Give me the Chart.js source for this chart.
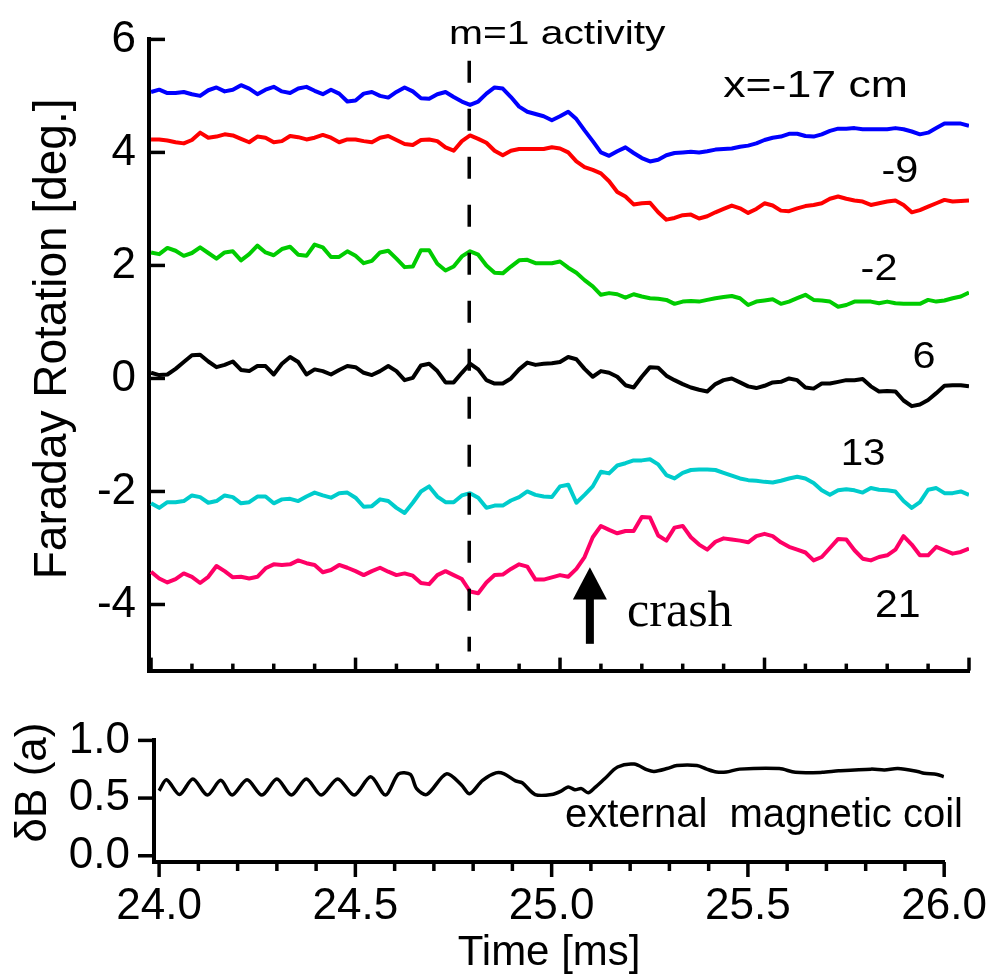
<!DOCTYPE html>
<html>
<head>
<meta charset="utf-8">
<script src="https://cdn.jsdelivr.net/npm/chart.js@4"></script>
<style>
  body { margin: 0; background: #fff; }
  #wrap { position: relative; width: 1005px; height: 979px; }
  canvas { position: absolute; left: 0; }
  #topChart { top: 0; }
  #bottomChart { top: 690px; }
</style>
</head>
<body>
<div id="wrap">
  <canvas id="topChart" width="1005" height="710"></canvas>
  <canvas id="bottomChart" width="1005" height="289"></canvas>
</div>
<script>
  // sampling grid of the Faraday traces, 0.02 ms
  const time = [];
  for (let k = 0; k <= 100; k++) time.push(+(24 + k * 0.02).toFixed(2));

  const seriesNames = ['x=-17 cm', '-9', '-2', '6', '13', '21'];

  const blue = [5.07, 5.11, 5.05, 5.05, 5.07, 5.03, 5.00, 5.10, 5.15, 5.08,
    5.11, 5.19, 5.13, 5.03, 5.11, 5.16, 5.08, 5.05, 5.13, 5.16,
    5.09, 5.03, 5.11, 5.04, 4.90, 4.92, 5.04, 5.07, 5.00, 4.97,
    5.07, 5.15, 5.08, 4.96, 4.95, 5.03, 5.07, 4.98, 4.90, 4.84,
    4.90, 5.04, 5.15, 5.13, 4.98, 4.81, 4.72, 4.68, 4.64, 4.57,
    4.64, 4.72, 4.59, 4.39, 4.20, 4.00, 3.94, 4.02, 4.09, 3.99,
    3.90, 3.84, 3.87, 3.95, 3.99, 4.00, 4.01, 4.00, 4.02, 4.05,
    4.06, 4.07, 4.10, 4.12, 4.16, 4.22, 4.26, 4.28, 4.33, 4.33,
    4.29, 4.28, 4.32, 4.38, 4.42, 4.42, 4.43, 4.41, 4.41, 4.41,
    4.41, 4.43, 4.41, 4.37, 4.32, 4.35, 4.43, 4.51, 4.51, 4.51, 4.47];

  const red = [4.23, 4.23, 4.21, 4.18, 4.16, 4.22, 4.35, 4.26, 4.28, 4.32,
    4.30, 4.24, 4.18, 4.28, 4.26, 4.18, 4.20, 4.29, 4.27, 4.23,
    4.26, 4.31, 4.26, 4.18, 4.23, 4.23, 4.20, 4.18, 4.26, 4.29,
    4.22, 4.15, 4.13, 4.22, 4.23, 4.20, 4.09, 4.03, 4.20, 4.30,
    4.24, 4.17, 4.03, 3.95, 4.03, 4.06, 4.06, 4.06, 4.06, 4.09,
    4.07, 4.00, 3.84, 3.74, 3.69, 3.63, 3.49, 3.30, 3.22, 3.08,
    3.10, 3.11, 2.94, 2.81, 2.84, 2.89, 2.90, 2.83, 2.87, 2.94,
    3.00, 3.06, 3.01, 2.93, 3.00, 3.10, 3.06, 2.97, 2.96, 3.01,
    3.05, 3.07, 3.10, 3.18, 3.22, 3.18, 3.15, 3.13, 3.07, 3.10,
    3.13, 3.15, 3.07, 2.94, 2.98, 3.04, 3.10, 3.16, 3.13, 3.14, 3.15];

  const green = [2.23, 2.20, 2.31, 2.26, 2.17, 2.22, 2.32, 2.22, 2.12, 2.23,
    2.25, 2.09, 2.20, 2.35, 2.23, 2.18, 2.29, 2.33, 2.19, 2.17,
    2.37, 2.32, 2.15, 2.15, 2.25, 2.17, 2.04, 2.08, 2.23, 2.26,
    2.12, 1.97, 1.98, 2.27, 2.27, 2.03, 1.91, 1.98, 2.16, 2.25,
    2.19, 2.00, 1.87, 1.86, 1.98, 2.09, 2.10, 2.04, 2.04, 2.04,
    2.07, 1.96, 1.87, 1.74, 1.63, 1.48, 1.51, 1.49, 1.43, 1.49,
    1.45, 1.42, 1.41, 1.39, 1.32, 1.36, 1.37, 1.36, 1.39, 1.42,
    1.44, 1.46, 1.42, 1.30, 1.36, 1.38, 1.40, 1.32, 1.36, 1.42,
    1.48, 1.39, 1.38, 1.36, 1.27, 1.30, 1.36, 1.36, 1.36, 1.33,
    1.36, 1.33, 1.32, 1.32, 1.32, 1.39, 1.36, 1.38, 1.42, 1.45, 1.52];

  const black = [0.10, 0.06, 0.07, 0.17, 0.29, 0.41, 0.42, 0.30, 0.20, 0.24,
    0.30, 0.15, 0.13, 0.22, 0.22, 0.07, 0.26, 0.38, 0.29, 0.07,
    0.16, 0.13, 0.07, 0.15, 0.22, 0.20, 0.10, 0.06, 0.13, 0.22,
    0.13, -0.03, 0.01, 0.23, 0.26, 0.13, -0.07, -0.07, 0.10, 0.26,
    0.16, -0.03, -0.09, -0.09, 0.00, 0.16, 0.28, 0.24, 0.26, 0.27,
    0.29, 0.38, 0.34, 0.17, 0.03, 0.13, 0.10, 0.03, -0.12, -0.16,
    0.03, 0.20, 0.19, 0.05, -0.03, -0.10, -0.16, -0.20, -0.23, -0.10,
    -0.03, 0.00, -0.07, -0.14, -0.17, -0.13, -0.07, -0.06, 0.00, -0.03,
    -0.16, -0.18, -0.09, -0.09, -0.06, -0.03, -0.03, -0.01, -0.14, -0.23,
    -0.22, -0.23, -0.39, -0.49, -0.46, -0.38, -0.26, -0.13, -0.12, -0.12, -0.14];

  const cyan = [-2.21, -2.29, -2.19, -2.19, -2.17, -2.07, -2.10, -2.20, -2.17, -2.07,
    -2.10, -2.21, -2.19, -2.09, -2.09, -2.21, -2.14, -2.13, -2.17, -2.09,
    -2.02, -2.07, -2.11, -2.03, -2.02, -2.11, -2.27, -2.26, -2.14, -2.17,
    -2.29, -2.38, -2.20, -2.00, -1.91, -2.09, -2.19, -2.19, -2.07, -2.03,
    -2.11, -2.29, -2.25, -2.25, -2.16, -2.10, -2.00, -2.06, -2.09, -2.10,
    -1.91, -1.88, -2.20, -2.06, -1.91, -1.65, -1.68, -1.54, -1.50, -1.45,
    -1.45, -1.43, -1.52, -1.71, -1.77, -1.67, -1.62, -1.61, -1.61, -1.62,
    -1.67, -1.72, -1.77, -1.80, -1.81, -1.83, -1.84, -1.81, -1.77, -1.74,
    -1.77, -1.85, -1.98, -2.06, -1.98, -1.96, -1.98, -2.02, -1.94, -1.97,
    -1.98, -2.00, -2.17, -2.29, -2.19, -1.97, -1.94, -2.03, -2.03, -2.00, -2.06];

  const pink = [-3.42, -3.54, -3.61, -3.55, -3.45, -3.51, -3.62, -3.51, -3.32, -3.41,
    -3.52, -3.51, -3.54, -3.51, -3.36, -3.29, -3.30, -3.29, -3.22, -3.27,
    -3.30, -3.43, -3.39, -3.30, -3.35, -3.41, -3.48, -3.41, -3.35, -3.42,
    -3.48, -3.45, -3.49, -3.62, -3.64, -3.48, -3.41, -3.48, -3.55, -3.77,
    -3.80, -3.61, -3.48, -3.47, -3.37, -3.29, -3.33, -3.56, -3.56, -3.52,
    -3.48, -3.51, -3.37, -3.16, -2.81, -2.61, -2.68, -2.74, -2.70, -2.70,
    -2.45, -2.46, -2.78, -2.87, -2.64, -2.61, -2.81, -2.94, -3.03, -2.89,
    -2.83, -2.85, -2.87, -2.90, -2.79, -2.75, -2.79, -2.90, -2.98, -3.03,
    -3.08, -3.22, -3.16, -3.00, -2.84, -2.85, -3.04, -3.19, -3.22, -3.16,
    -3.13, -3.03, -2.79, -2.94, -3.13, -3.13, -2.98, -3.04, -3.10, -3.07, -3.01];

  // external magnetic coil signal, read at its turning points
  const dbTime = [24.000, 24.019, 24.052, 24.086, 24.123, 24.157, 24.186, 24.224, 24.262, 24.300,
    24.337, 24.375, 24.413, 24.455, 24.497, 24.539, 24.577, 24.610, 24.640, 24.656,
    24.682, 24.732, 24.770, 24.791, 24.824, 24.858, 24.879, 24.908, 24.925, 24.958,
    25.000, 25.026, 25.042, 25.059, 25.076, 25.093, 25.110, 25.135, 25.168, 25.210,
    25.244, 25.261, 25.294, 25.319, 25.370, 25.395, 25.420, 25.445, 25.479, 25.580,
    25.621, 25.689, 25.731, 25.814, 25.848, 25.882, 25.932, 25.949, 25.982, 25.999];
  const dbValue = [0.564, 0.659, 0.531, 0.666, 0.526, 0.654, 0.526, 0.659, 0.526, 0.666,
    0.526, 0.666, 0.526, 0.666, 0.526, 0.685, 0.526, 0.710, 0.705, 0.582,
    0.531, 0.710, 0.615, 0.538, 0.654, 0.718, 0.710, 0.649, 0.633, 0.531,
    0.531, 0.564, 0.597, 0.572, 0.582, 0.546, 0.590, 0.667, 0.769, 0.795,
    0.744, 0.731, 0.756, 0.782, 0.782, 0.751, 0.726, 0.726, 0.751, 0.756,
    0.723, 0.723, 0.736, 0.751, 0.744, 0.756, 0.731, 0.715, 0.705, 0.685];

  const m1Time = 24.778;              // m=1 activity marker
  const xMajor = [24.0, 24.5, 25.0, 25.5, 26.0];
  const xMinor = [24.1, 24.2, 24.3, 24.4, 24.6, 24.7, 24.8, 24.9,
                  25.1, 25.2, 25.3, 25.4, 25.6, 25.7, 25.8, 25.9];
  const yTopTicks = [-4, -2, 0, 2, 4, 6];
  const yBotTicks = [0.0, 0.5, 1.0];

  const sans = "'Liberation Sans', Arial, sans-serif";
  const serif = "'Liberation Serif', 'Times New Roman', serif";
  Chart.defaults.font.family = sans;
  Chart.defaults.color = '#000';

  const traces = [blue, red, green, black, cyan, pink];
  const traceColors = ['#0000ff', '#ff0000', '#00cc00', '#000000', '#00cccc', '#ff0066'];

  function tickMarks(ctx, scale, values, len, dir, horizontal, a) {
    values.forEach(v => {
      const p = scale.getPixelForValue(v);
      ctx.beginPath();
      if (horizontal) { ctx.moveTo(p, a.bottom); ctx.lineTo(p, a.bottom + dir * len); }
      else { ctx.moveTo(a.left, p); ctx.lineTo(a.left + dir * len, p); }
      ctx.stroke();
    });
  }

  // ticks, rotated axis title, text notes and the arrow
  const decor = {
    id: 'decor',
    afterDraw(chart, args, o) {
      const ctx = chart.ctx, a = chart.chartArea;
      const xs = chart.scales.x, ys = chart.scales.y;
      ctx.save();
      ctx.strokeStyle = '#000';
      ctx.fillStyle = '#000';
      ctx.lineWidth = 3.5;
      tickMarks(ctx, xs, xMajor, o.xMajorLen, o.xDir, true, a);
      tickMarks(ctx, xs, xMinor, o.xMinorLen, o.xDir, true, a);
      tickMarks(ctx, ys, o.yTicks, o.yLen, o.yDir, false, a);

      ctx.save();
      ctx.translate(o.yTitle.x, ys.getPixelForValue(o.yTitle.v));
      ctx.rotate(-Math.PI / 2);
      ctx.font = o.yTitle.size + 'px ' + sans;
      ctx.textAlign = 'center';
      ctx.textBaseline = 'middle';
      ctx.fillText(o.yTitle.text, 0, 0);
      ctx.restore();

      (o.notes || []).forEach(n => {
        ctx.save();
        ctx.translate(xs.getPixelForValue(n.t), ys.getPixelForValue(n.v));
        ctx.scale(n.sx || 1, 1);
        ctx.font = n.size + 'px ' + (n.family || sans);
        ctx.textAlign = n.align || 'center';
        ctx.textBaseline = 'alphabetic';
        ctx.fillText(n.text, 0, 0);
        ctx.restore();
      });

      if (o.arrow) {
        const ar = o.arrow;
        const ax = xs.getPixelForValue(ar.t);
        const tip = ys.getPixelForValue(ar.tip);
        const base = ys.getPixelForValue(ar.base);
        const tail = ys.getPixelForValue(ar.tail);
        ctx.fillRect(ax - 4, base - 1, 8, tail - base + 1);
        ctx.beginPath();
        ctx.moveTo(ax, tip);
        ctx.lineTo(ax + 17, base);
        ctx.lineTo(ax - 17, base);
        ctx.closePath();
        ctx.fill();
      }
      ctx.restore();
    }
  };

  const topDatasets = [{
    label: 'm=1 activity',
    data: [{ x: m1Time, y: 5.62 }, { x: m1Time, y: -4.83 }],
    borderColor: '#000',
    borderWidth: 3.5,
    borderDash: [22, 26],
    pointRadius: 0
  }].concat(traces.map((s, i) => ({
    label: seriesNames[i],
    data: time.map((t, j) => ({ x: t, y: s[j] })),
    borderColor: traceColors[i],
    borderWidth: 4,
    borderJoinStyle: 'round',
    pointRadius: 0,
    tension: 0
  })));

  new Chart(document.getElementById('topChart'), {
    type: 'line',
    data: { datasets: topDatasets },
    options: {
      responsive: false,
      animation: false,
      events: [],
      layout: { padding: { top: 35, right: 36, left: 0, bottom: 0 } },
      plugins: {
        legend: { display: false },
        tooltip: { enabled: false },
        decor: {
          xMajorLen: 13, xMinorLen: 7, xDir: -1,
          yTicks: yTopTicks, yLen: 16, yDir: 1,
          yTitle: { text: 'Faraday Rotation [deg.]', x: 53, v: 0.70, size: 46 },
          notes: [
            { text: 'm=1 activity', t: 24.993, v: 5.913, size: 34, sx: 1.2 },
            { text: seriesNames[0], t: 25.625, v: 4.986, size: 36, sx: 1.24 },
            { text: seriesNames[1], t: 25.831, v: 3.478, size: 36, sx: 1.15 },
            { text: seriesNames[2], t: 25.780, v: 1.739, size: 36, sx: 1.15 },
            { text: seriesNames[3], t: 25.890, v: 0.191, size: 36, sx: 1.15 },
            { text: seriesNames[4], t: 25.741, v: -1.530, size: 36, sx: 1.12 },
            { text: seriesNames[5], t: 25.826, v: -4.226, size: 38, sx: 1.08 },
            { text: 'crash', t: 25.164, v: -4.383, size: 50, align: 'left', family: serif }
          ],
          arrow: { t: 25.073, tip: -3.339, base: -3.913, tail: -4.696 }
        }
      },
      scales: {
        x: {
          type: 'linear', min: 23.995, max: 26.0,
          grid: { display: false, drawTicks: false },
          border: { display: true, width: 4, color: '#000' },
          ticks: { display: false },
          afterFit: s => { s.height = 33; }
        },
        y: {
          min: -5.17, max: 6,
          grid: { display: false, drawTicks: false },
          border: { display: true, width: 4, color: '#000' },
          ticks: { font: { size: 44 }, padding: 13 },
          afterBuildTicks: s => { s.ticks = yTopTicks.map(v => ({ value: v })); },
          afterFit: s => { s.width = 149; }
        }
      }
    },
    plugins: [decor]
  });

  new Chart(document.getElementById('bottomChart'), {
    type: 'line',
    data: {
      datasets: [{
        label: 'δB (a)',
        data: dbTime.map((t, i) => ({ x: t, y: dbValue[i] })),
        borderColor: '#000',
        borderWidth: 3.5,
        borderJoinStyle: 'round',
        pointRadius: 0,
        tension: 0.3
      }]
    },
    options: {
      responsive: false,
      animation: false,
      events: [],
      layout: { padding: { top: 35, right: 52, left: 0, bottom: 0 } },
      plugins: {
        legend: { display: false },
        tooltip: { enabled: false },
        decor: {
          xMajorLen: 15, xMinorLen: 9, xDir: 1,
          yTicks: yBotTicks, yLen: 16, yDir: -1,
          yTitle: { text: 'δB (a)', x: 34, v: 0.635, size: 44 },
          notes: [
            { text: 'external  magnetic coil', t: 25.034, v: 0.246, size: 40, align: 'left' }
          ]
        }
      },
      scales: {
        x: {
          type: 'linear', min: 23.987, max: 26.0,
          grid: { display: false, drawTicks: false },
          border: { display: true, width: 4, color: '#000' },
          ticks: { font: { size: 44 }, padding: 18, maxRotation: 0, callback: v => v.toFixed(1) },
          afterBuildTicks: s => { s.ticks = xMajor.map(v => ({ value: v })); },
          title: { display: true, text: 'Time [ms]', font: { size: 42 }, padding: { top: 0, bottom: 0 } },
          afterFit: s => { s.height = 117; }
        },
        y: {
          min: -0.054, max: 1.0,
          grid: { display: false, drawTicks: false },
          border: { display: true, width: 4, color: '#000' },
          ticks: { font: { size: 44 }, padding: 24, callback: v => v.toFixed(1) },
          afterBuildTicks: s => { s.ticks = yBotTicks.map(v => ({ value: v })); },
          afterFit: s => { s.width = 154; }
        }
      }
    },
    plugins: [decor]
  });
</script>
</body>
</html>
